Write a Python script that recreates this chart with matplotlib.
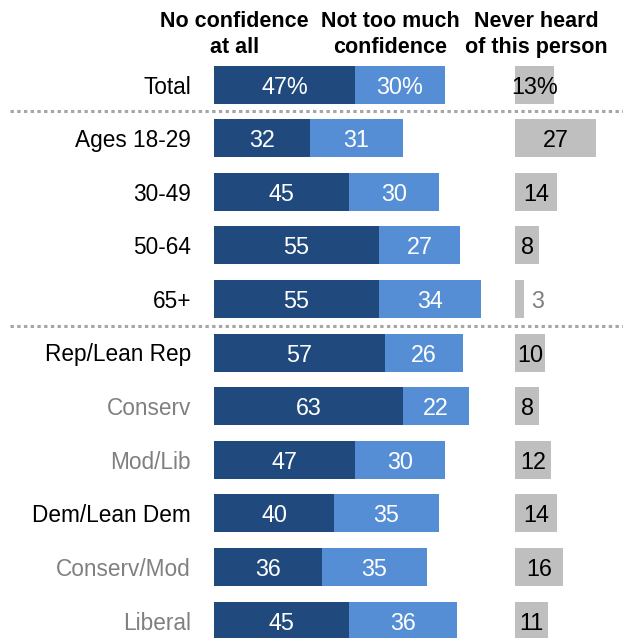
import matplotlib
matplotlib.use("Agg")
import matplotlib.pyplot as plt

plt.rcParams['font.family'] = ['Liberation Sans', 'DejaVu Sans']

labels = ["Total", "Ages 18-29", "30-49", "50-64", "65+",
          "Rep/Lean Rep", "Conserv", "Mod/Lib",
          "Dem/Lean Dem", "Conserv/Mod", "Liberal"]
no_conf = [47, 32, 45, 55, 55, 57, 63, 47, 40, 36, 45]
not_much = [30, 31, 30, 27, 34, 26, 22, 30, 35, 35, 36]
never_heard = [13, 27, 14, 8, 3, 10, 8, 12, 14, 16, 11]
sub_rows = ["Conserv", "Mod/Lib", "Conserv/Mod", "Liberal"]

dark = "#204a7d"
light = "#558ed5"
grey = "#bfbfbf"

fig = plt.figure(figsize=(6.23, 6.38), dpi=100)
ax = fig.add_axes([0, 0, 1, 1])
# 3 px per percentage point, bars start at x=214 px
ax.set_xlim(-214 / 3, (623 - 214) / 3)
ax.set_ylim((638 - 84.5) / 53.6, -84.5 / 53.6)
ax.axis("off")

gap = 301 / 3  # offset of the "never heard" column
h = 38 / 53.6
y = list(range(len(labels)))

ax.barh(y, no_conf, height=h, color=dark)
ax.barh(y, not_much, left=no_conf, height=h, color=light)
ax.barh(y, never_heard, left=gap, height=h, color=grey)

for i, lab in enumerate(labels):
    col = "#808080" if lab in sub_rows else "black"
    ax.text(-7.7, i, lab, ha="right", va="center_baseline", fontsize=16.3, color=col)
    pct = "%" if i == 0 else ""
    ax.text(no_conf[i] / 2, i, f"{no_conf[i]}{pct}", ha="center",
            va="center_baseline", fontsize=16.8, color="white")
    ax.text(no_conf[i] + not_much[i] / 2, i, f"{not_much[i]}{pct}", ha="center",
            va="center_baseline", fontsize=16.8, color="white")
    if never_heard[i] < 5:
        ax.text(gap + never_heard[i] + 2.3, i, f"{never_heard[i]}{pct}", ha="left",
                va="center_baseline", fontsize=16.8, color="#808080")
    else:
        ax.text(gap + never_heard[i] / 2, i, f"{never_heard[i]}{pct}", ha="center",
                va="center_baseline", fontsize=16.8, color="black")

for sep in [0.5, 4.5]:
    ax.plot([-204 / 3, 623 / 3], [sep, sep], color="#a6a6a6", lw=2.2,
            linestyle=(0, (1.1, 1.1)), dash_capstyle="butt")

headers = [("No confidence", "at all", 6.9), ("Not too much", "confidence", 58.8),
           ("Never heard", "of this person", 107.3)]
for l1, l2, x in headers:
    ax.text(x, (27 - 84.5) / 53.6, l1, ha="center", va="baseline",
            fontsize=15.5, fontweight="bold")
    ax.text(x, (53 - 84.5) / 53.6, l2, ha="center", va="baseline",
            fontsize=15.5, fontweight="bold")

fig.savefig("out.png", dpi=100)
